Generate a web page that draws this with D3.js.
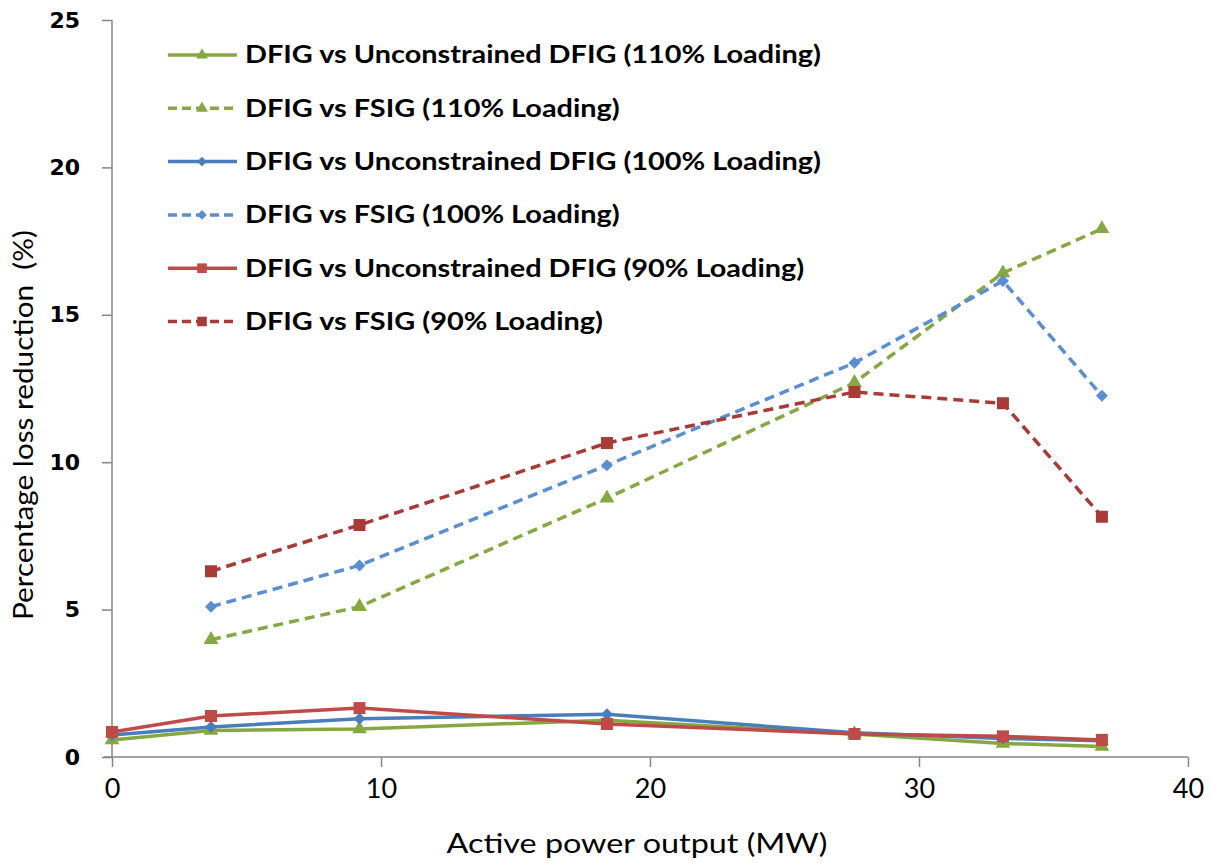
<!DOCTYPE html>
<html>
<head>
<meta charset="utf-8">
<script src="https://cdn.jsdelivr.net/npm/d3@7"></script>
<style>
	body { margin: 0; background: #fff; }
	svg { display: block; }
	.ytick { font-family: "DejaVu Sans", Verdana, sans-serif; font-weight: bold; font-size: 22px; }
	.xtick { font-family: Lato, "Open Sans", sans-serif; font-size: 27px; }
	.title { font-family: Lato, "Open Sans", sans-serif; font-size: 26px; white-space: pre; }
	.legendLabel { font-family: Lato, "Open Sans", sans-serif; font-weight: bold; font-size: 24px; }
</style>
</head>
<body>
<svg id="chart" width="1213" height="863"></svg>
<script>
// values
const power = [0, 3.68, 9.2, 18.4, 27.6, 33.12, 36.8]
const powerFsig = [3.68, 9.2, 18.4, 27.6, 33.12, 36.8]

const uncon110 = [0.58, 0.9, 0.95, 1.25, 0.78, 0.46, 0.36]
const fsig110 = [3.98, 5.1, 8.78, 12.7, 16.42, 17.92]
const uncon100 = [0.75, 1.02, 1.3, 1.45, 0.82, 0.63, 0.55]
const fsig100 = [5.1, 6.5, 9.9, 13.37, 16.15, 12.25]
const uncon90 = [0.85, 1.39, 1.66, 1.12, 0.78, 0.7, 0.58]
const fsig90 = [6.3, 7.87, 10.65, 12.38, 12.0, 8.15]

const xTicks = [0, 10, 20, 30, 40]
const yTicks = [0, 5, 10, 15, 20, 25]

const seriesList = [
	{ name: "DFIG vs Unconstrained DFIG (110% Loading)", xs: power, ys: uncon110, color: "#86A843", dashed: false, marker: "triangle" },
	{ name: "DFIG vs FSIG (110% Loading)", xs: powerFsig, ys: fsig110, color: "#86A843", dashed: true, marker: "triangle" },
	{ name: "DFIG vs Unconstrained DFIG (100% Loading)", xs: power, ys: uncon100, color: "#4A7EBB", dashed: false, marker: "diamond" },
	{ name: "DFIG vs FSIG (100% Loading)", xs: powerFsig, ys: fsig100, color: "#5B8ED0", dashed: true, marker: "diamond" },
	{ name: "DFIG vs Unconstrained DFIG (90% Loading)", xs: power, ys: uncon90, color: "#BE4B48", dashed: false, marker: "square" },
	{ name: "DFIG vs FSIG (90% Loading)", xs: powerFsig, ys: fsig90, color: "#A83A37", dashed: true, marker: "square" },
]

const svg = d3.select("#chart")
const margin = { left: 112, right: 25, top: 20, bottom: 106 }
const W = 1213, H = 863

const x = d3.scaleLinear().domain([0, 40]).range([margin.left, W - margin.right])
const y = d3.scaleLinear().domain([0, 25]).range([H - margin.bottom, margin.top])

//the source picture is stretched sideways, so text gets widened with textLength
function widen(sel, k) {
	sel.each(function() {
		const len = this.getComputedTextLength()
		d3.select(this).attr("textLength", len * k).attr("lengthAdjust", "spacingAndGlyphs")
	})
}

//axes, Excel style: grey lines with outward ticks
const xAxis = svg.append("g")
	.attr("transform", `translate(0,${y(0)})`)
	.call(d3.axisBottom(x).tickValues(xTicks).tickSize(10).tickPadding(12).tickFormat(d3.format("d")))
xAxis.select(".domain").attr("d", `M${x(0) - 8},0H${x(40)}`).attr("stroke", "#868686").attr("stroke-width", 1.5)
xAxis.selectAll(".tick line").attr("stroke", "#868686").attr("stroke-width", 1.5)
xAxis.selectAll(".tick text").attr("class", "xtick").attr("fill", "#000").attr("font-size", null).attr("font-family", null)

const yAxis = svg.append("g")
	.attr("transform", `translate(${x(0)},0)`)
	.call(d3.axisLeft(y).tickValues(yTicks).tickSize(10).tickPadding(22))
yAxis.select(".domain").attr("d", `M0,${y(25)}V${y(0)}`).attr("stroke", "#868686").attr("stroke-width", 1.5)
yAxis.selectAll(".tick line").attr("stroke", "#868686").attr("stroke-width", 1.5)
yAxis.selectAll(".tick text").attr("class", "ytick").attr("fill", "#000").attr("font-size", null).attr("font-family", null)

svg.append("text")
	.attr("class", "title")
	.attr("x", 637).attr("y", 853)
	.attr("text-anchor", "middle")
	.text("Active power output (MW)")
	.attr("textLength", 381).attr("lengthAdjust", "spacingAndGlyphs")

svg.append("text")
	.attr("class", "title")
	.attr("transform", `translate(33,425) rotate(-90)`)
	.attr("text-anchor", "middle")
	.text("Percentage loss reduction  (%)")
	.attr("textLength", 390).attr("lengthAdjust", "spacingAndGlyphs")

function markerPath(kind) {
	if (kind === "triangle") return d3.symbol(d3.symbolTriangle, 95)()
	if (kind === "diamond") return "M0,-6L6,0L0,6L-6,0Z"
	return "M-6,-6H6V6H-6Z"
}

const line = d3.line().x(d => x(d[0])).y(d => y(d[1]))

//dashed first so the solid ones sit on top near the bottom
const drawOrder = [1, 3, 5, 0, 2, 4]
drawOrder.forEach(i => {
	const s = seriesList[i]
	const pts = s.xs.map((v, k) => [v, s.ys[k]])
	const g = svg.append("g")
	g.append("path")
		.attr("d", line(pts))
		.attr("fill", "none")
		.attr("stroke", s.color)
		.attr("stroke-width", 3.5)
		.attr("stroke-dasharray", s.dashed ? "10,6" : null)
	g.selectAll("path.mk")
		.data(pts)
		.join("path")
			.classed("mk", true)
			.attr("d", markerPath(s.marker))
			.attr("transform", d => `translate(${x(d[0])},${y(d[1])})`)
			.attr("fill", s.color)
})

//legend
const legend = svg.append("g")
const rowY = i => 55 + i * 53.3
seriesList.forEach((s, i) => {
	const row = legend.append("g").attr("transform", `translate(0,${rowY(i)})`)
	row.append("line")
		.attr("x1", 168).attr("x2", 237)
		.attr("stroke", s.color)
		.attr("stroke-width", 3.5)
		.attr("stroke-dasharray", s.dashed ? "9,5" : null)
	row.append("path")
		.attr("d", markerPath(s.marker))
		.attr("transform", "translate(202,0) scale(0.8)")
		.attr("fill", s.color)
	row.append("text")
		.attr("class", "legendLabel")
		.attr("x", 245).attr("y", 0)
		.attr("dy", "0.35em")
		.text(s.name)
		.call(widen, 575 / 478)
})
</script>
</body>
</html>
